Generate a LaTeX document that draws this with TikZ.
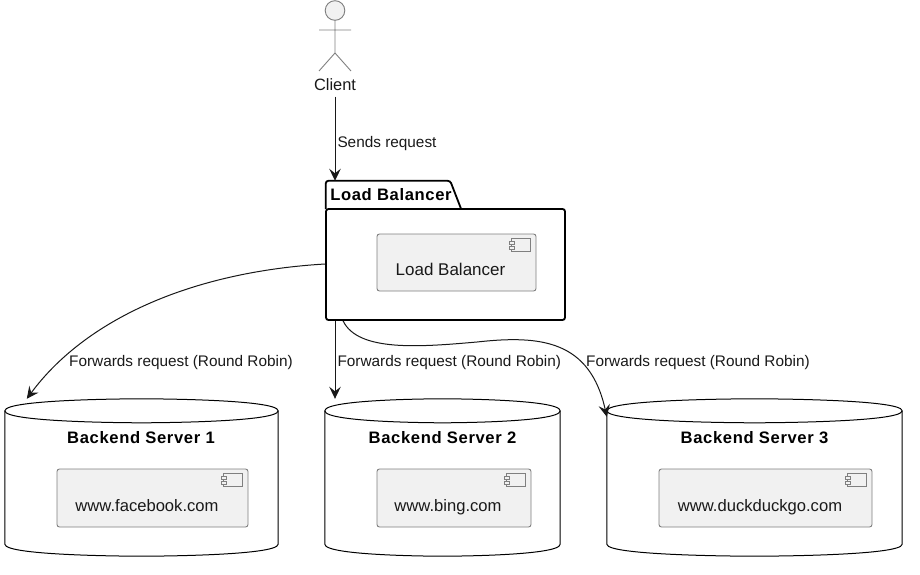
\documentclass[tikz,border=0pt]{standalone}
\usepackage{fontspec}
\setmainfont{Liberation Sans}
\usetikzlibrary{arrows.meta, calc}
\definecolor{linecol}{HTML}{181818}
\definecolor{compfill}{HTML}{F1F1F1}
\definecolor{compline}{HTML}{7F7F7F}
\tikzstyle{actorpart} = [draw=compline, line width=0.9pt]
\tikzstyle{actorname} = [inner sep=0pt, text=black!90, font=\fontsize{16.4}{18}\selectfont]
\tikzstyle{folder} = [rectangle, draw=black, line width=1.8pt, rounded corners=2.5pt, inner sep=0pt]
\tikzstyle{foldertab} = [rectangle, inner sep=0pt]
\tikzstyle{database} = [rectangle, inner sep=0pt]
\tikzstyle{title} = [inner sep=0pt, font=\fontsize{16.6}{18}\selectfont\bfseries\addfontfeatures{LetterSpace=3.8}]
\tikzstyle{comp} = [rectangle, rounded corners=2.5pt, draw=compline, fill=compfill, line width=0.9pt, inner sep=0pt]
\tikzstyle{compname} = [inner sep=0pt, text height=12pt, text depth=3.5pt, text=black!90, font=\fontsize{17}{20}\selectfont]
\tikzstyle{urlname} = [compname, font=\fontsize{16.6}{20}\selectfont]
\tikzstyle{arrow} = [draw=linecol, line width=1pt, -{Stealth[length=12pt, width=11.5pt, inset=4.5pt]}]
\tikzstyle{lbl} = [inner sep=0pt, text height=11.5pt, text depth=3.5pt, text=black!90, font=\fontsize{15.35}{18}\selectfont]
% the cylinder outline and the little component icon
\newcommand{\dbshape}[1]{
  \draw[black, line width=1pt]
    ($(#1.north west)+(0,12)$) .. controls ($(#1.north west)+(0,0)$) and ($(#1.north)$) .. (#1.north)
    .. controls (#1.north) and (#1.north east) .. ($(#1.north east)+(0,12)$)
    -- ($(#1.south east)+(0,-12)$) .. controls (#1.south east) and (#1.south) .. (#1.south)
    .. controls (#1.south) and (#1.south west) .. ($(#1.south west)+(0,-12)$) -- cycle;
  \draw[black, line width=1pt]
    ($(#1.north west)+(0,12)$) .. controls ($(#1.north west)+(0,24)$) and ($(#1.north)+(0,24)$) .. ($(#1.north)+(0,24)$)
    .. controls ($(#1.north)+(0,24)$) and ($(#1.north east)+(0,24)$) .. ($(#1.north east)+(0,12)$);
}
\newcommand{\compicon}[1]{
  \draw[compline, line width=0.8pt, fill=compfill] ($(#1.north east)+(-25,5)$) rectangle ($(#1.north east)+(-6,18)$);
  \draw[compline, line width=0.8pt, fill=compfill] ($(#1.north east)+(-27.5,8)$) rectangle ($(#1.north east)+(-22,11)$);
  \draw[compline, line width=0.8pt, fill=compfill] ($(#1.north east)+(-27.5,13)$) rectangle ($(#1.north east)+(-22,16)$);
}

\begin{document}
\begin{tikzpicture}[x=1pt, y=-1pt]
\useasboundingbox (0,0) rectangle (920,575);

% client
\draw[actorpart, fill=compfill] (335,10.5) circle (9.8pt);
\draw[actorpart] (335,20) -- (335,53) (319,30) -- (351,30) (319,71) -- (335,53) -- (351,71);
\node (client) [actorname] at (335,84.5) {Client};

% load balancer package
\node (lbbox) [folder, minimum width=239pt, minimum height=111pt] at (445.5,264.5) {};
\node (lbtab) [foldertab, minimum width=135pt, minimum height=28pt] at (393.5,195) {};
\draw[black, line width=1.8pt, rounded corners=2.5pt] (lbtab.south west) -- (lbtab.north west) -- ($(lbtab.north east)+(-11,0)$) -- (lbtab.south east);
\node (lbtitle) [title] at (391,194.5) {Load Balancer};
\node (lb) [comp, minimum width=159pt, minimum height=57pt] at (456.5,262.5) {};
\compicon{lb}
\node (lbname) [compname] at (450.5,271.5) {Load Balancer};

% backend servers
\node (srvone) [database, minimum width=273pt, minimum height=157pt] at (141.5,477.5) {};
\dbshape{srvone}
\node (srvonetitle) [title] at (141,437.5) {Backend Server 1};
\node (fb) [comp, minimum width=191pt, minimum height=58pt] at (152.5,498) {};
\compicon{fb}
\node (fbname) [urlname] at (147,507.5) {www.facebook.com};

\node (srvtwo) [database, minimum width=235pt, minimum height=157pt] at (442.5,477.5) {};
\dbshape{srvtwo}
\node (srvtwotitle) [title] at (442.5,437.5) {Backend Server 2};
\node (bing) [comp, minimum width=154pt, minimum height=58pt] at (454,498) {};
\compicon{bing}
\node (bingname) [urlname] at (448,507.5) {www.bing.com};

\node (srvthree) [database, minimum width=295pt, minimum height=157pt] at (754.5,477.5) {};
\dbshape{srvthree}
\node (srvthreetitle) [title] at (754.5,437.5) {Backend Server 3};
\node (ddg) [comp, minimum width=213pt, minimum height=58pt] at (765.5,498) {};
\compicon{ddg}
\node (ddgname) [urlname] at (760,507.5) {www.duckduckgo.com};

% connectors
\draw[arrow] ($(client.south)+(0,6)$) -- node[lbl, right=2pt, pos=0.56]{Sends request} (client.south |- lbtab.north);
\draw[arrow] (lbbox.west |- 0,264) .. controls (190,272) and (85,320) .. ($(srvone.north west)+(22,0)$);
\node (lblone) [lbl, anchor=west] at (69,362) {Forwards request (Round Robin)};
\draw[arrow] (client.south |- lbbox.south) -- node[lbl, right=2pt, pos=0.53]{Forwards request (Round Robin)} (client.south |- srvtwo.north);
\draw[arrow] ($(lbbox.south west)+(18,0)$) .. controls (358,352) and (420,347) .. (477,342)
  .. controls (540,335) and (590,340) .. ($(srvthree.north west)+(0,18)$);
\node (lblthree) [lbl, anchor=west] at (586,362) {Forwards request (Round Robin)};
\end{tikzpicture}
\end{document}
